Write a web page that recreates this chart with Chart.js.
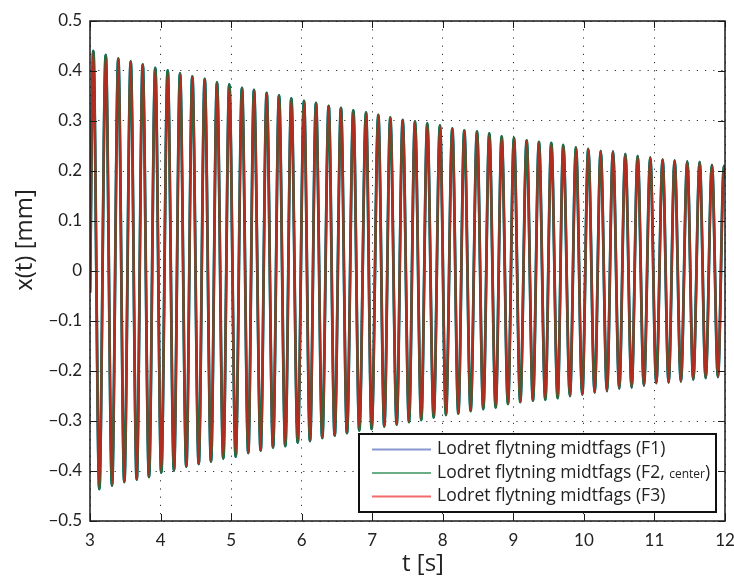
<!DOCTYPE html>
<html>
<head>
<meta charset="utf-8">
<script src="https://cdn.jsdelivr.net/npm/chart.js@4/dist/chart.umd.min.js"></script>
<style>
  html, body { margin: 0; padding: 0; background: #fff; }
  #wrap { width: 734px; height: 577px; }
</style>
</head>
<body>
<div id="wrap"><canvas id="chart" width="734" height="577"></canvas></div>
<script>
// values: peaks and troughs of the vertical displacement
const peakTimes = [3.047, 3.223, 3.401, 3.577, 3.747, 3.925, 4.101, 4.276, 4.450, 4.626, 4.800, 4.974,
    5.154, 5.324, 5.504, 5.679, 5.853, 6.033, 6.203, 6.383, 6.557, 6.732, 6.912,
    7.086, 7.256, 7.432, 7.606, 7.780, 7.960, 8.135, 8.305, 8.485, 8.659, 8.835,
    9.009, 9.189, 9.363, 9.538, 9.708, 9.888, 10.062, 10.238, 10.412, 10.587, 10.762,
    10.941, 11.116, 11.286, 11.465, 11.641, 11.815, 11.985];
const peakValues = [0.440, 0.432, 0.425, 0.419, 0.413, 0.406, 0.401, 0.395, 0.389, 0.384, 0.377, 0.373,
    0.366, 0.362, 0.356, 0.351, 0.345, 0.340, 0.336, 0.330, 0.326, 0.321, 0.317,
    0.312, 0.307, 0.302, 0.299, 0.295, 0.291, 0.285, 0.281, 0.279, 0.275, 0.269,
    0.266, 0.261, 0.258, 0.256, 0.252, 0.247, 0.244, 0.240, 0.239, 0.234, 0.230,
    0.227, 0.223, 0.221, 0.219, 0.218, 0.212, 0.210];
const troughTimes = [3.132, 3.312, 3.486, 3.662, 3.836, 4.010, 4.190, 4.365, 4.541, 4.715, 4.889,
    5.065, 5.243, 5.419, 5.594, 5.768, 5.944, 6.118, 6.292, 6.468, 6.642, 6.817, 6.992,
    7.171, 7.347, 7.521, 7.695, 7.871, 8.045, 8.220, 8.395, 8.574, 8.750, 8.924,
    9.098, 9.278, 9.453, 9.628, 9.802, 9.977, 10.153, 10.327, 10.501, 10.677, 10.851,
    11.026, 11.201, 11.375, 11.550, 11.726, 11.900];
const troughValues = [-0.436, -0.429, -0.422, -0.417, -0.412, -0.403, -0.399, -0.391, -0.386, -0.381, -0.375,
    -0.371, -0.364, -0.359, -0.353, -0.350, -0.343, -0.340, -0.334, -0.329, -0.324, -0.319, -0.316,
    -0.311, -0.307, -0.302, -0.298, -0.293, -0.288, -0.285, -0.280, -0.276, -0.273, -0.266,
    -0.262, -0.259, -0.257, -0.254, -0.250, -0.247, -0.243, -0.240, -0.235, -0.233, -0.229,
    -0.224, -0.223, -0.221, -0.217, -0.214, -0.212];
const startPoint = { x: 3.0, y: -0.043 };
const endPoint = { x: 12.0, y: 0.19 };

const seriesLabels = ['Lodret flytning midtfags (F1)', 'Lodret flytning midtfags (F2, center)', 'Lodret flytning midtfags (F3)'];
const xTicks = [3, 4, 5, 6, 7, 8, 9, 10, 11, 12];

// merge peaks and troughs into one time-ordered trace
const buildTrace = () => {
    const pts = [startPoint];
    peakTimes.forEach((t, i) => pts.push({ x: t, y: peakValues[i] }));
    troughTimes.forEach((t, i) => pts.push({ x: t, y: troughValues[i] }));
    pts.push(endPoint);
    return pts.sort((a, b) => a.x - b.x);
};

const FONT = 'Lato, "Open Sans", sans-serif';
const TEXT_FONT = '"Open Sans", Lato, sans-serif';
const lineColors = ['rgb(50,70,200)', 'rgb(0,125,70)', 'rgba(232,20,20,0.76)'];
const lineWidths = [2.6, 2.8, 2.1];
const legendColors = ['#8797cf', '#6aae86', '#f26a6a'];

const frame = {
    id: 'frame',
    afterDraw(chart) {
        const { ctx, chartArea: a, scales: { x, y } } = chart;
        ctx.save();
        ctx.strokeStyle = '#1a1a1a';
        ctx.lineWidth = 1;
        const seg = (x1, y1, x2, y2) => { ctx.beginPath(); ctx.moveTo(x1, y1); ctx.lineTo(x2, y2); ctx.stroke(); };
        // inward tick marks on all four sides
        x.ticks.forEach(t => {
            const px = Math.round(x.getPixelForValue(t.value)) + 0.5;
            seg(px, a.bottom, px, a.bottom - 7);
            seg(px, a.top, px, a.top + 7);
        });
        y.ticks.forEach(t => {
            const py = Math.round(y.getPixelForValue(t.value)) + 0.5;
            seg(a.left, py, a.left + 7, py);
            seg(a.right, py, a.right - 7, py);
        });
        ctx.lineWidth = 1.5;
        ctx.strokeRect(a.left, a.top, a.right - a.left, a.bottom - a.top);

        // legend box, bottom right inside the axes
        const bw = 357, bh = 78;
        const bx = a.right - 9 - bw, by = a.bottom - 9 - bh;
        ctx.fillStyle = '#fff';
        ctx.fillRect(bx, by, bw, bh);
        ctx.lineWidth = 2;
        ctx.strokeStyle = '#111';
        ctx.strokeRect(bx, by, bw, bh);
        ctx.textBaseline = 'middle';
        ctx.textAlign = 'left';
        seriesLabels.forEach((lab, i) => {
            const ry = by + 15.5 + i * 23.5;
            ctx.strokeStyle = legendColors[i];
            ctx.lineWidth = 2;
            seg(bx + 13, ry, bx + 72, ry);
            ctx.fillStyle = '#222';
            const tx = bx + 78;
            if (lab.includes('center')) {
                const head = 'Lodret flytning midtfags (F2, ';
                ctx.font = '17.5px ' + TEXT_FONT;
                ctx.fillText(head, tx, ry);
                let w = ctx.measureText(head).width;
                ctx.font = '12px ' + TEXT_FONT;
                ctx.fillText('center', tx + w, ry + 2);
                w += ctx.measureText('center').width;
                ctx.font = '17.5px ' + TEXT_FONT;
                ctx.fillText(')', tx + w, ry);
            } else {
                ctx.font = '17.5px ' + TEXT_FONT;
                ctx.fillText(lab, tx, ry);
            }
        });

        // axis titles
        ctx.fillStyle = '#222';
        ctx.font = '24px ' + TEXT_FONT;
        ctx.textAlign = 'center';
        ctx.textBaseline = 'alphabetic';
        ctx.fillText('t [s]', 423, 571);
        ctx.translate(25, 240);
        ctx.rotate(-Math.PI / 2);
        ctx.textBaseline = 'middle';
        ctx.fillText('x(t) [mm]', 0, 0);
        ctx.restore();
    }
};

const trace = buildTrace();
const ctx = document.getElementById('chart').getContext('2d');
new Chart(ctx, {
    type: 'line',
    data: {
        datasets: seriesLabels.map((lab, i) => ({
            label: lab,
            data: trace,
            borderColor: lineColors[i],
            borderWidth: lineWidths[i],
            order: 3 - i, // F3 (red) drawn on top
            pointRadius: 0,
            fill: false,
            cubicInterpolationMode: 'monotone',
        })),
    },
    options: {
        responsive: false,
        animation: false,
        events: [],
        layout: { padding: { left: 0, right: 9, top: 21, bottom: 0 } },
        plugins: { legend: { display: false }, tooltip: { enabled: false } },
        scales: {
            x: {
                type: 'linear',
                min: 3,
                max: 12,
                afterBuildTicks: s => { s.ticks = xTicks.map(v => ({ value: v })); },
                afterFit: s => { s.height = 56; s.paddingLeft = 0; s.paddingRight = 0; },
                ticks: { color: '#222', font: { family: FONT, size: 17 }, padding: 9, maxRotation: 0 },
                grid: { color: '#333', lineWidth: 1, drawTicks: false },
                border: { display: false, dash: [1.2, 7] },
            },
            y: {
                min: -0.5,
                max: 0.5,
                afterFit: s => { s.width = 90; s.paddingTop = 0; s.paddingBottom = 0; },
                ticks: {
                    stepSize: 0.1,
                    color: '#222',
                    font: { family: FONT, size: 17 },
                    padding: 8,
                    callback: v => Math.abs(v) < 1e-9 ? '0' : (v < 0 ? '\u2212' : '') + Math.abs(v).toFixed(1),
                },
                grid: { color: '#333', lineWidth: 1, drawTicks: false },
                border: { display: false, dash: [1.2, 7] },
            },
        },
    },
    plugins: [frame],
});
</script>
</body>
</html>
